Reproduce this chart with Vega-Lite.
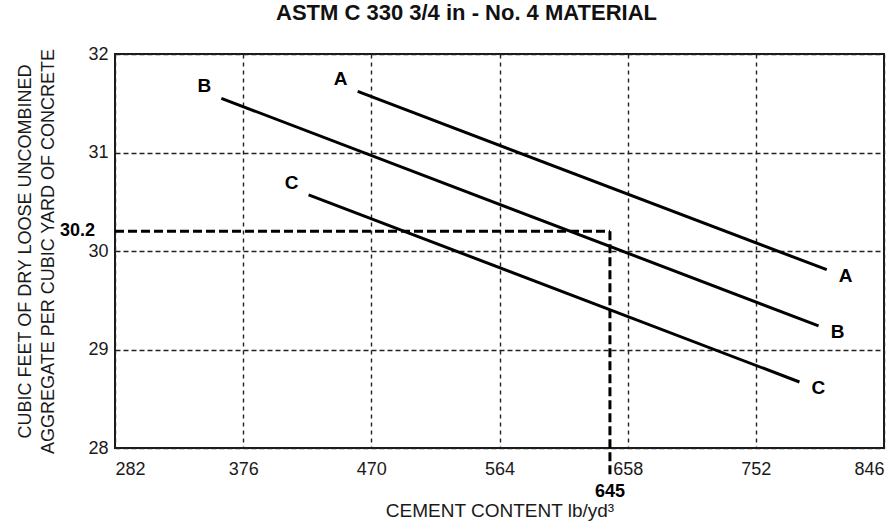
{
  "$schema": "https://vega.github.io/schema/vega-lite/v6.json",
  "width": 769,
  "height": 394,
  "autosize": {"type": "none"},
  "padding": {"left": 115, "top": 54, "right": 12, "bottom": 74},
  "background": "white",
  "config": {
    "view": {"stroke": "#1a1a1a", "strokeWidth": 2},
    "font": "Liberation Sans",
    "axis": {
      "domain": false,
      "ticks": false,
      "labelFont": "Liberation Sans",
      "titleFont": "Liberation Sans",
      "labelColor": "#1a1a1a",
      "titleColor": "#1a1a1a",
      "titleFontWeight": "normal",
      "labelFontSize": 18,
      "titleFontSize": 18,
      "gridColor": "#222222",
      "gridWidth": 1.4,
      "gridOpacity": 1
    }
  },
  "title": {
    "text": "ASTM C 330 3/4 in - No. 4 MATERIAL",
    "font": "Liberation Sans",
    "fontSize": 22,
    "fontWeight": "bold",
    "color": "#111111",
    "anchor": "middle",
    "offset": 20,
    "dx": -33
  },
  "datasets": {
    "curves": [
      {"material": "A", "end": "start", "cement": 460, "volume": 31.62},
      {"material": "A", "end": "end", "cement": 804, "volume": 29.81},
      {"material": "B", "end": "start", "cement": 360, "volume": 31.55},
      {"material": "B", "end": "end", "cement": 798, "volume": 29.24},
      {"material": "C", "end": "start", "cement": 424, "volume": 30.57},
      {"material": "C", "end": "end", "cement": 784, "volume": 28.67}
    ],
    "reading": [{"cement": 645, "volume": 30.2}]
  },
  "encoding": {
    "x": {
      "field": "cement",
      "type": "quantitative",
      "scale": {"domain": [282, 846], "nice": false, "zero": false},
      "axis": {
        "values": [282, 376, 470, 564, 658, 752, 846],
        "labelPadding": 12,
        "gridDash": [4, 4],
        "title": "CEMENT CONTENT lb/yd³",
        "titleFontSize": 19,
        "titlePadding": 23
      }
    },
    "y": {
      "field": "volume",
      "type": "quantitative",
      "scale": {"domain": [28, 32], "nice": false, "zero": false},
      "axis": {
        "values": [28, 29, 30, 31, 32],
        "labelPadding": 7,
        "gridDash": [5, 3],
        "title": ["CUBIC FEET OF DRY LOOSE UNCOMBINED", "AGGREGATE PER CUBIC YARD OF CONCRETE"],
        "titleLineHeight": 23,
        "titlePadding": 30
      }
    }
  },
  "layer": [
    {
      "data": {"name": "reading"},
      "mark": {"type": "rule", "color": "#000000", "strokeWidth": 3, "strokeDash": [9, 4]},
      "encoding": {
        "x": {"datum": 282, "type": "quantitative"},
        "x2": {"field": "cement"}
      }
    },
    {
      "data": {"name": "reading"},
      "mark": {"type": "rule", "color": "#000000", "strokeWidth": 3, "strokeDash": [9, 4], "clip": false},
      "encoding": {
        "y2": {"datum": 27.73}
      }
    },
    {
      "data": {"name": "curves"},
      "mark": {"type": "line", "color": "#000000", "strokeWidth": 3},
      "encoding": {"detail": {"field": "material"}}
    },
    {
      "data": {"name": "curves"},
      "transform": [{"filter": "datum.end === 'start'"}],
      "mark": {"type": "text", "fontSize": 19, "fontWeight": "bold", "color": "#000000", "dx": -17, "dy": -12, "align": "center", "baseline": "middle"},
      "encoding": {"text": {"field": "material"}}
    },
    {
      "data": {"name": "curves"},
      "transform": [{"filter": "datum.end === 'end'"}],
      "mark": {"type": "text", "fontSize": 19, "fontWeight": "bold", "color": "#000000", "dx": 19, "dy": 6, "align": "center", "baseline": "middle"},
      "encoding": {"text": {"field": "material"}}
    },
    {
      "data": {"name": "reading"},
      "mark": {"type": "text", "fontSize": 18, "fontWeight": "bold", "color": "#000000", "dy": 44, "align": "center", "baseline": "middle", "clip": false},
      "encoding": {
        "y": {"datum": 28, "type": "quantitative"},
        "text": {"field": "cement", "type": "quantitative", "format": "d"}
      }
    },
    {
      "data": {"name": "reading"},
      "mark": {"type": "text", "fontSize": 18, "fontWeight": "bold", "color": "#000000", "dx": -20, "align": "right", "baseline": "middle", "clip": false},
      "encoding": {
        "x": {"datum": 282, "type": "quantitative"},
        "text": {"field": "volume", "type": "quantitative", "format": ".1f"}
      }
    }
  ]
}
